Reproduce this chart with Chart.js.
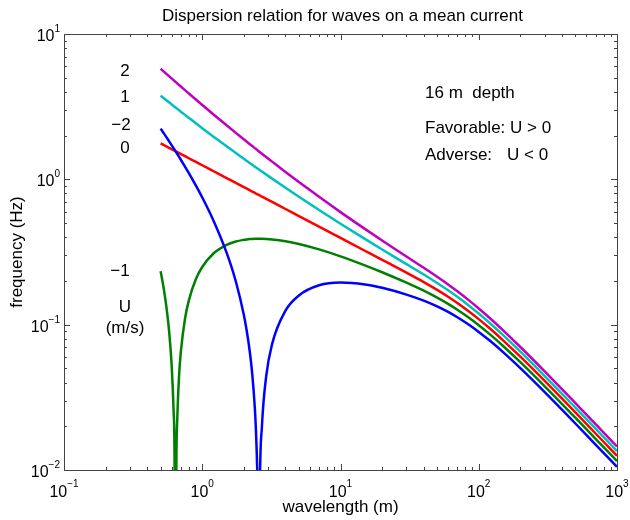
<!DOCTYPE html>
<html>
<head>
<meta charset="utf-8">
<script src="https://cdn.jsdelivr.net/npm/chart.js@4"></script>
<style>
  html, body { margin: 0; padding: 0; background: #fff; }
  #wrap { width: 630px; height: 520px; }
</style>
</head>
<body>
<div id="wrap"><canvas id="chart" width="630" height="520"></canvas></div>
<script>
// wavelength (m)
const wavelength = [0.5, 0.525, 0.55, 0.575, 0.6, 0.62, 0.63, 0.64, 0.65, 0.66, 0.68, 0.7, 0.75, 0.8, 0.9, 1,
  1.2, 1.5, 1.75,
  2, 2.1, 2.2, 2.3, 2.4, 2.45, 2.5, 2.52, 2.56, 2.6, 2.7,
  2.9, 3.2, 4, 5, 7, 10, 15, 20, 30, 40, 50, 60, 70, 85,
  100, 120, 150, 200, 300, 500, 700, 1000];

// frequency (Hz) for each current speed U (m/s)
const freqU2 = [5.767, 5.534, 5.321, 5.126, 4.946, 4.813, 4.749, 4.687, 4.627, 4.568, 4.457, 4.351, 4.109, 3.897, 3.539, 3.250,
  2.807, 2.354, 2.087,
  1.884, 1.815, 1.752, 1.694, 1.640, 1.615, 1.590, 1.581, 1.562, 1.544, 1.501,
  1.423, 1.324, 1.125, 0.959, 0.758, 0.595, 0.456, 0.379, 0.2945, 0.2463, 0.2136, 0.1891, 0.1697, 0.1469,
  0.1292, 0.1111, 0.09137, 0.07019, 0.04767, 0.02889, 0.02069, 0.01451];
const freqU1 = [3.767, 3.629, 3.503, 3.387, 3.280, 3.200, 3.162, 3.124, 3.088, 3.053, 2.986, 2.922, 2.776, 2.647, 2.428, 2.250,
  1.974, 1.687, 1.516,
  1.384, 1.338, 1.297, 1.259, 1.223, 1.206, 1.190, 1.184, 1.172, 1.160, 1.131,
  1.079, 1.011, 0.875, 0.759, 0.615, 0.495, 0.389, 0.329, 0.2611, 0.2213, 0.1936, 0.1724, 0.1554, 0.1351,
  0.1192, 0.1027, 0.08471, 0.06519, 0.04433, 0.02689, 0.01926, 0.01351];
const freqU0 = [1.767, 1.725, 1.685, 1.648, 1.613, 1.587, 1.574, 1.562, 1.550, 1.538, 1.515, 1.493, 1.443, 1.397, 1.317, 1.250,
  1.141, 1.020, 0.945,
  0.884, 0.862, 0.842, 0.824, 0.807, 0.798, 0.790, 0.787, 0.781, 0.775, 0.760,
  0.734, 0.699, 0.625, 0.559, 0.472, 0.395, 0.3226, 0.2794, 0.2278, 0.1963, 0.1736, 0.1558, 0.1411, 0.1234,
  0.1092, 0.09438, 0.07804, 0.06019, 0.04100, 0.02489, 0.01783, 0.01251];
const freqUm1 = [0.2329, 0.1803, 0.1334, 0.0913, 0.0536, 0.0260, 0.0131, 0.0006, 0.0113, 0.0228, 0.0447, 0.0649, 0.1095, 0.1470, 0.2060, 0.2495,
  0.3074, 0.3535, 0.3731,
  0.3835, 0.3861, 0.3879, 0.3891, 0.3899, 0.3901, 0.3903, 0.3903, 0.3903, 0.3903, 0.3900,
  0.3889, 0.3860, 0.3748, 0.3588, 0.3294, 0.2951, 0.2559, 0.2294, 0.1945, 0.1713, 0.1536, 0.1391, 0.1268, 0.1116,
  0.0992, 0.08605, 0.07137, 0.05519, 0.03767, 0.02289, 0.01640, 0.01151];
const freqUm2 = [2.233, 2.085, 1.952, 1.830, 1.720, 1.639, 1.600, 1.563, 1.527, 1.492, 1.426, 1.364, 1.224, 1.103, 0.905, 0.7505,
  0.5260, 0.3131, 0.1983,
  0.1165, 0.0901, 0.0667, 0.0457, 0.0268, 0.0180, 0.0098, 0.0065, 0.0003, 0.0057, 0.0197,
  0.0441, 0.0735, 0.1248, 0.1588, 0.1866, 0.1951, 0.1893, 0.1794, 0.1611, 0.1463, 0.1336, 0.1224, 0.1125, 0.0998,
  0.0892, 0.07771, 0.06471, 0.05019, 0.03433, 0.02089, 0.01497, 0.01051];

const xTickValues = [0.1, 1, 10, 100, 1000];
const xTickLabels = ["10^\u22121", "10^0", "10^1", "10^2", "10^3"];
const yTickValues = [0.01, 0.1, 1, 10];
const yTickLabels = ["10^\u22122", "10^\u22121", "10^0", "10^1"];

const FONT = "'Liberation Sans', Arial, Helvetica, sans-serif";

function toPoints(ys) {
  return wavelength.map((x, i) => ({ x: x, y: ys[i] }));
}

// inward ticks on all four sides, box, tick labels and free text
const decorPlugin = {
  id: "decor",
  afterDraw(chart) {
    const ctx = chart.ctx;
    const a = chart.chartArea;
    const xs = chart.scales.x, ys = chart.scales.y;
    ctx.save();
    ctx.strokeStyle = "#444";
    ctx.lineWidth = 1;
    ctx.beginPath();
    for (let e = -1; e < 3; e++) {
      for (let m = 1; m < 10; m++) {
        const px = Math.round(xs.getPixelForValue(m * Math.pow(10, e))) + 0.5;
        const len = m === 1 ? 6 : 3;
        ctx.moveTo(px, a.bottom); ctx.lineTo(px, a.bottom - len);
        ctx.moveTo(px, a.top); ctx.lineTo(px, a.top + len);
      }
    }
    for (let e = -2; e < 1; e++) {
      for (let m = 1; m < 10; m++) {
        const py = Math.round(ys.getPixelForValue(m * Math.pow(10, e))) + 0.5;
        const len = m === 1 ? 6 : 3;
        ctx.moveTo(a.left, py); ctx.lineTo(a.left + len, py);
        ctx.moveTo(a.right, py); ctx.lineTo(a.right - len, py);
      }
    }
    ctx.stroke();
    ctx.strokeRect(Math.round(a.left) + 0.5, Math.round(a.top) + 0.5,
      Math.round(a.right - a.left), Math.round(a.bottom - a.top));

    ctx.fillStyle = "#000";
    ctx.textBaseline = "alphabetic";
    const baseFont = "16px " + FONT, expFont = "10px " + FONT;

    // x tick labels
    xTickValues.forEach((v, i) => {
      const [b, p] = xTickLabels[i].split("^");
      ctx.font = baseFont; const wb = ctx.measureText(b).width;
      ctx.font = expFont; const wp = ctx.measureText(p).width;
      const x0 = xs.getPixelForValue(v) - (wb + wp) / 2;
      ctx.textAlign = "left";
      ctx.font = baseFont; ctx.fillText(b, x0, a.bottom + 27);
      ctx.font = expFont; ctx.fillText(p, x0 + wb, a.bottom + 17);
    });
    // y tick labels
    yTickValues.forEach((v, i) => {
      const [b, p] = yTickLabels[i].split("^");
      const py = ys.getPixelForValue(v);
      const xr = a.left - 4;
      ctx.textAlign = "right";
      ctx.font = expFont; const wp = ctx.measureText(p).width;
      ctx.fillText(p, xr, py - 2);
      ctx.font = baseFont; ctx.fillText(b, xr - wp, py + 7);
    });

    const mid = (a.left + a.right) / 2;
    ctx.font = "17px " + FONT;
    ctx.textAlign = "center";
    ctx.fillText("Dispersion relation for waves on a mean current", mid + 2, 21);
    ctx.fillText("wavelength (m)", mid, 512);
    ctx.save();
    ctx.translate(22, (a.top + a.bottom) / 2);
    ctx.rotate(-Math.PI / 2);
    ctx.fillText("frequency (Hz)", 0, 0);
    ctx.restore();

    ctx.fillText("2", 125, 76);
    ctx.fillText("1", 125, 102);
    ctx.fillText("\u22122", 121, 130);
    ctx.fillText("0", 125, 153);
    ctx.fillText("\u22121", 120, 276);
    ctx.fillText("U", 125, 312);
    ctx.fillText("(m/s)", 125, 333);

    ctx.textAlign = "left";
    ctx.fillText("16 m  depth", 425, 98);
    ctx.fillText("Favorable: U > 0", 425, 133);
    ctx.fillText("Adverse:", 425, 160);
    ctx.fillText("U < 0", 507, 160);
    ctx.restore();
  }
};

const ds = (label, ys, color) => ({
  label: label,
  data: toPoints(ys),
  borderColor: color,
  borderWidth: 2.5,
  pointRadius: 0,
  fill: false,
  cubicInterpolationMode: "monotone"
});

new Chart(document.getElementById("chart"), {
  type: "line",
  data: {
    datasets: [
      ds("-2", freqUm2, "#0000ff"),
      ds("-1", freqUm1, "#008000"),
      ds("0", freqU0, "#ff0000"),
      ds("1", freqU1, "#00bfbf"),
      ds("2", freqU2, "#bf00bf")
    ]
  },
  options: {
    responsive: false,
    animation: false,
    layout: { padding: { top: 34, right: 13, left: 64, bottom: 50 } },
    plugins: {
      legend: { display: false },
      tooltip: { enabled: false },
      title: { display: false }
    },
    scales: {
      x: {
        type: "logarithmic",
        display: false,
        min: 0.1,
        max: 1000
      },
      y: {
        type: "logarithmic",
        display: false,
        min: 0.01,
        max: 10
      }
    }
  },
  plugins: [decorPlugin]
});
</script>
</body>
</html>
